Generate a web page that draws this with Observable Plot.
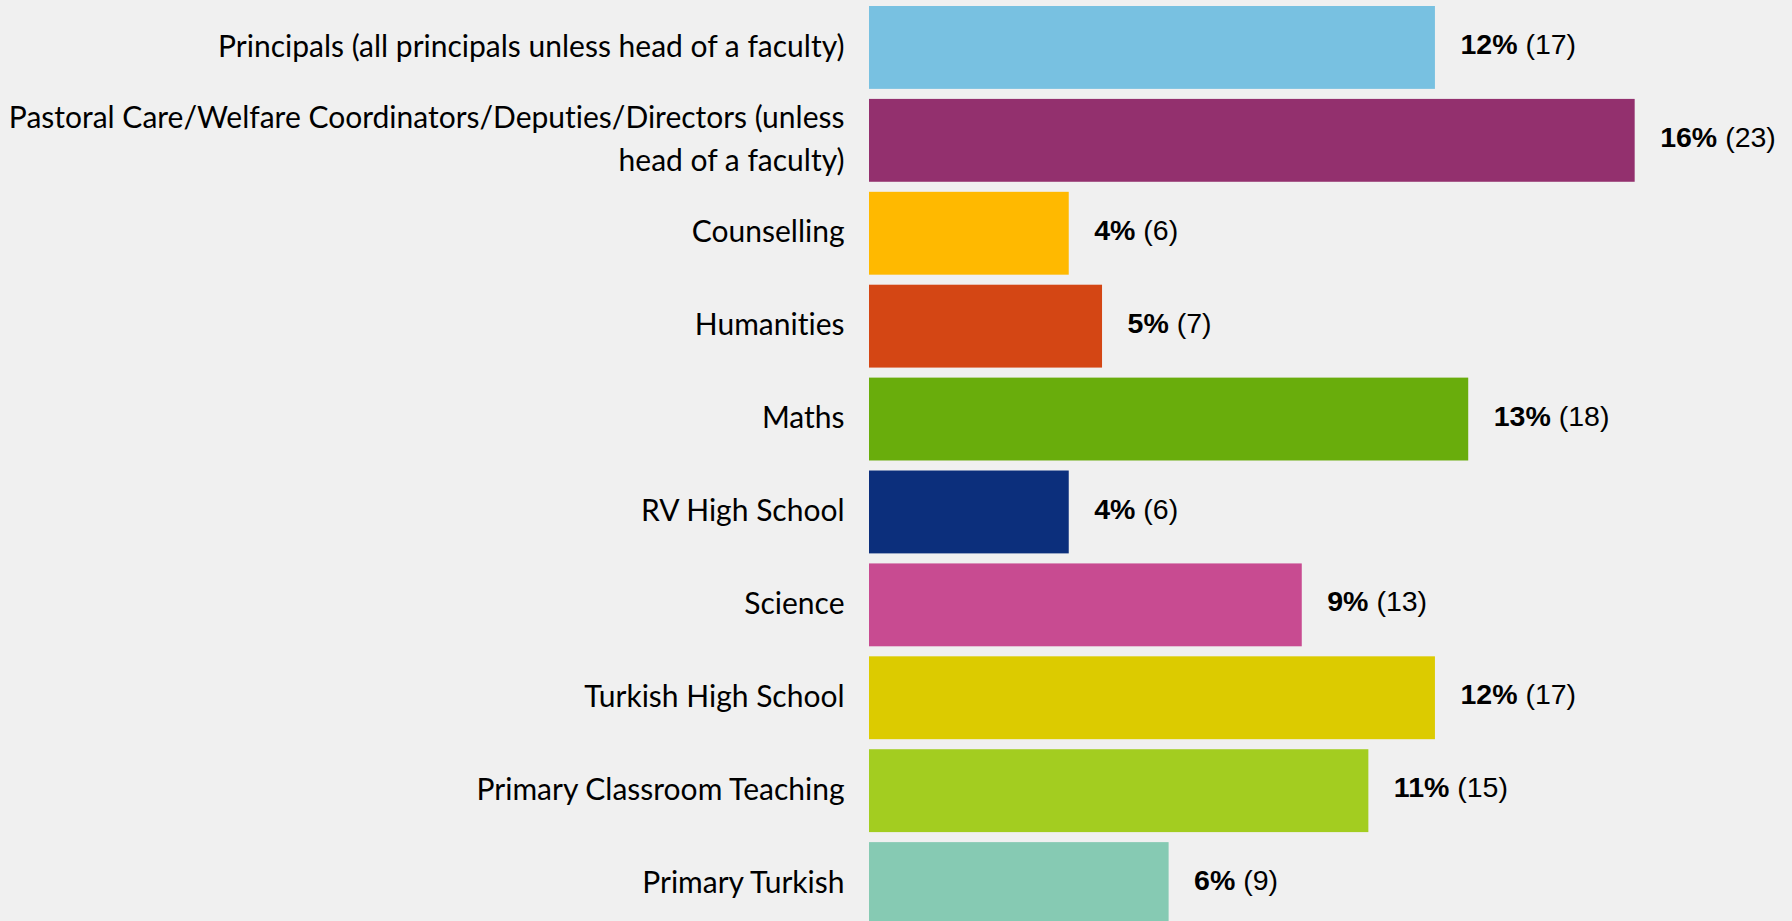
<!DOCTYPE html>
<html>
<head>
<meta charset="utf-8">
<script src="https://cdn.jsdelivr.net/npm/d3@7"></script>
<script src="https://cdn.jsdelivr.net/npm/@observablehq/plot@0.6"></script>
<style>
  html, body { margin: 0; padding: 0; background: #f0f0f0; overflow: hidden; }
  #chart svg { display: block; }
  #chart text { font-variant-ligatures: none; font-feature-settings: "liga" 0, "clig" 0; }
</style>
</head>
<body>
<div id="chart"></div>
<script>
const categories = [
  "Principals (all principals unless head of a faculty)",
  "Pastoral Care/Welfare Coordinators/Deputies/Directors (unless head of a faculty)",
  "Counselling",
  "Humanities",
  "Maths",
  "RV High School",
  "Science",
  "Turkish High School",
  "Primary Classroom Teaching",
  "Primary Turkish"
];
const displayLabels = [
  "Principals (all principals unless head of a faculty)",
  "Pastoral Care/Welfare Coordinators/Deputies/Directors (unless\nhead of a faculty)",
  "Counselling",
  "Humanities",
  "Maths",
  "RV High School",
  "Science",
  "Turkish High School",
  "Primary Classroom Teaching",
  "Primary Turkish"
];
const counts = [17, 23, 6, 7, 18, 6, 13, 17, 15, 9];
const percents = ["12%", "16%", "4%", "5%", "13%", "4%", "9%", "12%", "11%", "6%"];
const colors = ["#78c1e1", "#93306e", "#ffb900", "#d44614", "#69ad0c", "#0c2f7c", "#c84b91", "#dccb00", "#a3cd20", "#86cab3"];

const data = categories.map((c, i) => ({
  category: c, label: displayLabels[i], count: counts[i], pct: percents[i]
}));

const plot = Plot.plot({
  width: 1792,
  height: 921,
  style: { background: "#f0f0f0", overflow: "hidden" },
  x: { domain: [0, 27], range: [869, 869 + 33.29 * 27], axis: null },
  y: { domain: categories, range: [6, 925], paddingInner: 0.108, paddingOuter: 0, round: false, axis: null },
  color: { domain: categories, range: colors },
  marks: [
    Plot.barX(data, { x: "count", y: "category", fill: "category" }),
    Plot.text(data, {
      x: 0, y: "category", text: "label", textAnchor: "end", dx: -25, dy: -5,
      fontFamily: "Lato", fontSize: 30, lineHeight: 1.43, fill: "#000"
    }),
    Plot.text(data, {
      x: "count", y: "category", text: "pct", textAnchor: "start", dx: 25, dy: -3,
      fontFamily: "Liberation Sans, Arial, sans-serif", fontSize: 28.5, fontWeight: "bold",
      fill: "#000"
    })
  ]
});

// append the count in regular weight after the bold percentage
plot.querySelectorAll('g[font-weight="bold"] text').forEach((t, i) => {
  const ts = document.createElementNS("http://www.w3.org/2000/svg", "tspan");
  ts.setAttribute("font-weight", "normal");
  ts.textContent = " (" + counts[i] + ")";
  t.appendChild(ts);
});

document.getElementById("chart").appendChild(plot);
</script>
</body>
</html>
